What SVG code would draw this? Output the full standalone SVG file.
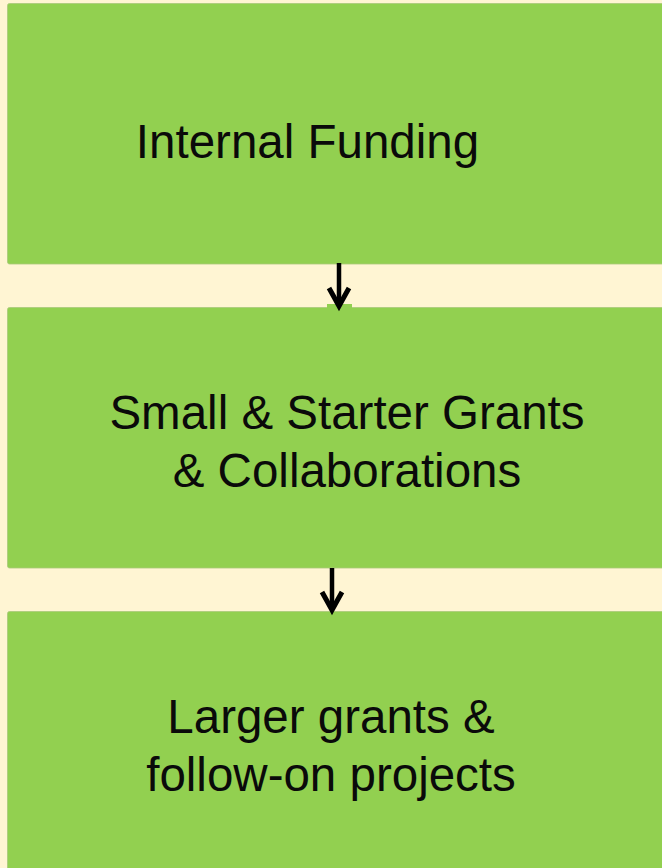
<svg xmlns="http://www.w3.org/2000/svg" width="662" height="868" viewBox="0 0 662 868">
<defs>
<style>
.box{fill:#92D050;stroke:#A9C97A;stroke-width:0.8}
.t{font-family:"Liberation Sans",Arial,sans-serif;font-size:47.5px;fill:#0a0a0a;text-anchor:middle}
.arr{fill:none;stroke:#000;stroke-width:4.5}
.head{fill:none;stroke:#000;stroke-width:5;stroke-linejoin:miter}
</style>
</defs>
<rect width="662" height="868" fill="#FFF5D3"/>
<g id="node1">
<rect class="box" x="7.5" y="3.5" width="670" height="260.5" rx="2"/>
<text class="t" x="307.5" y="158">Internal Funding</text>
</g>
<g id="node2">
<rect class="box" x="7.5" y="307.5" width="670" height="260.5" rx="2"/>
<rect x="327" y="304" width="25" height="5" fill="#92D050"/>
<text class="t" x="347" y="429">Small &amp; Starter Grants</text>
<text class="t" x="347" y="487">&amp; Collaborations</text>
</g>
<g id="node3">
<rect class="box" x="7.5" y="611.5" width="670" height="270" rx="2"/>
<text class="t" x="331" y="733">Larger grants &amp;</text>
<text class="t" x="331" y="791">follow-on projects</text>
</g>
<g id="connectors">
<path class="arr" d="M339 263 V306"/>
<path class="head" d="M329 288 L339 306 L349 288"/>
<path class="arr" d="M332 568 V610"/>
<path class="head" d="M322 592 L332 610 L342 592"/>
</g>
</svg>
